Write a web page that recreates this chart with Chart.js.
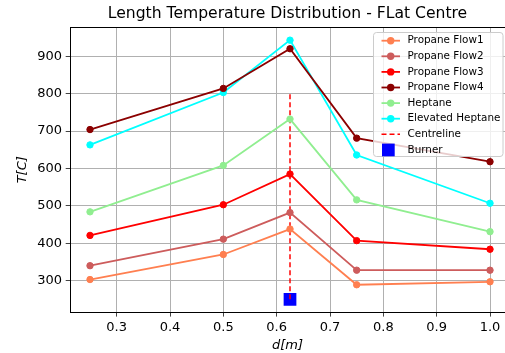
<!DOCTYPE html>
<html>
<head>
<meta charset="utf-8">
<script src="https://cdn.jsdelivr.net/npm/chart.js@4"></script>
<style>
html, body { margin: 0; padding: 0; background: #fff; overflow: hidden; }
</style>
</head>
<body>
<canvas id="chart" width="505" height="353"></canvas>
<script>
// distances along the flame (m)
const distances = [0.25, 0.5, 0.625, 0.75, 1.0];

// temperatures (C)
const propaneFlow1 = [303, 370, 438, 289, 297];
const propaneFlow2 = [340, 411, 482, 328, 328];
const propaneFlow3 = [421, 503, 585, 407, 384];
const propaneFlow4 = [704, 814, 920, 681, 618];
const heptane = [484, 608, 732, 516, 431];
const elevatedHeptane = [663, 803, 943, 636, 507];

const centreX = 0.625;
const centreY = [250, 800];
const burnerX = 0.625;
const burnerY = 250;

const xTicks = [0.3, 0.4, 0.5, 0.6, 0.7, 0.8, 0.9, 1.0];
const yTicks = [300, 400, 500, 600, 700, 800, 900];

const FONT = 'DejaVu Sans';
Chart.defaults.color = '#000';
Chart.defaults.font.family = FONT;

function series(label, values, color) {
    return {
        label: label,
        data: values.map((v, i) => ({ x: distances[i], y: v })),
        borderColor: color,
        backgroundColor: color,
        borderWidth: 1.8,
        pointRadius: 3.2,
        pointBorderWidth: 1,
        pointHoverRadius: 3.2,
        showLine: true
    };
}

// only grid lines on the listed ticks
const gridColor = list => c => (c.tick && list.some(v => Math.abs(v - c.tick.value) < 1e-9)) ? '#b0b0b0' : 'rgba(0,0,0,0)';

// matplotlib style legend box + top spine
const legendBox = {
    id: 'legendBox',
    afterDraw(chart) {
        const ctx = chart.ctx;
        const a = chart.chartArea;
        ctx.save();
        ctx.strokeStyle = '#000';
        ctx.lineWidth = 1;
        ctx.beginPath();
        ctx.moveTo(a.left, Math.round(a.top) + 0.5);
        ctx.lineTo(a.right, Math.round(a.top) + 0.5);
        ctx.stroke();

        const x0 = 373.5, y0 = 32.5, w = 129.5, h = 124;
        ctx.beginPath();
        ctx.roundRect(x0, y0, w, h, 3);
        ctx.fillStyle = 'rgba(255,255,255,0.8)';
        ctx.fill();
        ctx.strokeStyle = '#cccccc';
        ctx.stroke();

        ctx.font = '10.4px "' + FONT + '"';
        ctx.textBaseline = 'middle';
        chart.data.datasets.forEach((ds, i) => {
            const y = 40.7 + i * 15.6;
            if (ds.pointStyle === 'rect') {
                ctx.fillStyle = ds.backgroundColor;
                ctx.fillRect(382, y - 6.3, 12.7, 12.7);
            } else {
                ctx.strokeStyle = ds.borderColor;
                ctx.lineWidth = ds.borderWidth;
                ctx.setLineDash(ds.borderDash || []);
                ctx.beginPath();
                ctx.moveTo(381.5, y);
                ctx.lineTo(400, y);
                ctx.stroke();
                ctx.setLineDash([]);
                if (ds.pointRadius > 0) {
                    ctx.beginPath();
                    ctx.arc(390.7, y, 3.7, 0, Math.PI * 2);
                    ctx.fillStyle = ds.backgroundColor;
                    ctx.fill();
                }
            }
            ctx.fillStyle = '#000';
            ctx.fillText(ds.label, 407.5, y);
        });
        ctx.restore();
    }
};

new Chart(document.getElementById('chart').getContext('2d'), {
    type: 'scatter',
    data: {
        datasets: [
            series('Propane Flow1', propaneFlow1, '#ff7f50'),
            series('Propane Flow2', propaneFlow2, '#cd5c5c'),
            series('Propane Flow3', propaneFlow3, '#ff0000'),
            series('Propane Flow4', propaneFlow4, '#8b0000'),
            series('Heptane', heptane, '#90ee90'),
            series('Elevated Heptane', elevatedHeptane, '#00ffff'),
            {
                label: 'Centreline',
                data: centreY.map(v => ({ x: centreX, y: v })),
                borderColor: '#ff0000',
                backgroundColor: '#ff0000',
                borderWidth: 1.5,
                borderDash: [5, 3],
                pointRadius: 0,
                showLine: true
            },
            {
                label: 'Burner',
                data: [{ x: burnerX, y: burnerY }],
                pointStyle: 'rect',
                pointRadius: 9,
                borderWidth: 0,
                backgroundColor: '#0000ff',
                borderColor: '#0000ff',
                showLine: false
            }
        ]
    },
    options: {
        responsive: false,
        animation: false,
        layout: { padding: 0, autoPadding: false },
        plugins: {
            legend: { display: false },
            tooltip: { enabled: false },
            title: {
                display: true,
                text: 'Length Temperature Distribution - FLat Centre',
                fullSize: false,
                font: { size: 15.6, weight: 'normal', family: FONT },
                padding: { top: 5, bottom: 3.5 }
            }
        },
        scales: {
            x: {
                type: 'linear',
                min: 0.2125,
                max: 1.0281,
                afterBuildTicks: s => { s.ticks = xTicks.map(v => ({ value: v })); },
                afterFit: s => { s.height = 40.7; s.paddingLeft = 0; s.paddingRight = 0; },
                ticks: { font: { size: 13 }, padding: 3.7, callback: v => v.toFixed(1) },
                grid: { color: gridColor(xTicks), tickColor: '#444', tickLength: 4.3, lineWidth: 1 },
                border: { color: '#000', width: 1 },
                title: { display: true, text: 'd[m]', font: { size: 13, style: 'italic' }, padding: { top: 0, bottom: 0 } }
            },
            y: {
                min: 215.4,
                max: 977.6,
                afterBuildTicks: s => { s.ticks = yTicks.map(v => ({ value: v })); },
                afterFit: s => { s.width = 70; s.paddingTop = 0; s.paddingBottom = 0; },
                ticks: { font: { size: 13 }, padding: 3.7 },
                grid: { color: gridColor(yTicks), tickColor: '#444', tickLength: 4.3, lineWidth: 1 },
                border: { color: '#000', width: 1 },
                title: { display: true, text: 'T[C]', font: { size: 13, style: 'italic' }, padding: { top: 15, bottom: 0 } }
            }
        }
    },
    plugins: [legendBox]
});
</script>
</body>
</html>
